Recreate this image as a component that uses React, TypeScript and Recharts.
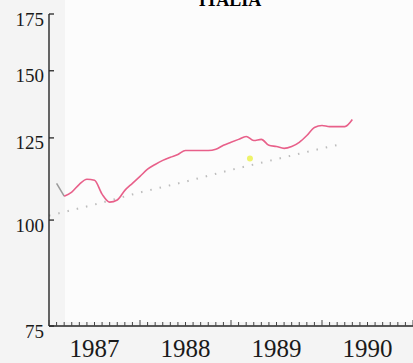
import { LineChart, Line, XAxis, YAxis, ReferenceDot } from 'recharts'

// months counted from Jan 1987 (0 = start of 1987)
const months = [1, 2, 3, 4, 5, 6, 7, 8, 9, 10, 11, 12, 13, 14, 15, 16, 17, 18, 19, 20,
  21, 22, 23, 24, 25, 26, 27, 28, 29, 30, 31, 32, 33, 34, 35, 36, 37, 38, 39, 40]
const italia = [110.5, 106.7, 107.9, 110.2, 111.7, 111.4, 107.3, 105.0, 105.6, 108.4,
  110.5, 112.6, 114.8, 116.3, 117.6, 118.6, 119.5, 120.8, 120.8, 120.8,
  120.8, 121.2, 122.5, 123.5, 124.5, 125.5, 124.1, 124.5, 122.5, 122.1,
  121.5, 122.1, 123.5, 125.8, 128.6, 129.3, 128.9, 128.9, 128.9, 131.4]
// the first segment is drawn in grey
const headMonths = [1, 2]

const trendMonths = [0, 6, 12, 18, 24, 30, 36, 38]
const trendValues = [101.2, 104.3, 107.8, 111.0, 114.6, 118.0, 121.5, 122.6]

const markMonth = 26.5
const markValue = 118.2

const yTicks = [75, 100, 125, 150, 175]
const yearLabels = ['1987', '1988', '1989', '1990']
const xTicks = Array.from({ length: 49 }, (_, i) => i)

type Row = { m: number; value?: number; head?: number; trend?: number }

function buildRows(): Row[] {
  const byMonth = new Map<number, Row>()
  const get = (m: number) => {
    if (!byMonth.has(m)) byMonth.set(m, { m })
    return byMonth.get(m)!
  }
  months.forEach((m, i) => {
    const r = get(m)
    if (m >= headMonths[1]) r.value = italia[i]
    if (headMonths.includes(m)) r.head = italia[i]
  })
  trendMonths.forEach((m, i) => {
    get(m).trend = trendValues[i]
  })
  return [...byMonth.values()].sort((a, b) => a.m - b.m)
}

const FONT = '"Liberation Serif", "DejaVu Serif", serif'
const INK = '#262626'

function YTick(props: any) {
  const { x, y, payload } = props
  return (
    <g>
      <line x1={x} y1={y} x2={x + 5} y2={y} stroke={INK} strokeWidth={1.3} />
      <text x={x - 5} y={y + 5} textAnchor="end" dominantBaseline="central"
        fontFamily={FONT} fontSize={19} fill="#1a1a1a">
        {payload.value}
      </text>
    </g>
  )
}

function XTick(props: any) {
  const { x, y, payload } = props
  const m = payload.value as number
  const len = m % 12 === 0 ? 6 : 4
  return (
    <g>
      <line x1={x} y1={y} x2={x} y2={y - len} stroke="#444" strokeWidth={1} />
      {m % 12 === 6 && (
        <text x={x} y={y + 31} textAnchor="middle" fontFamily={FONT}
          fontSize={25} fill="#1a1a1a">
          {yearLabels[Math.floor(m / 12)]}
        </text>
      )}
    </g>
  )
}

export default function App() {
  const rows = buildRows()
  return (
    <div style={{ position: 'absolute', left: 0, top: 0, width: 413, height: 363,
      overflow: 'hidden', background: '#f4f4f4' }}>
      <div style={{ position: 'absolute', left: 65, top: 0, width: 348, height: 322,
        background: '#fcfcfc' }} />
      <div style={{ position: 'absolute', left: 180, top: -9, width: 100, textAlign: 'center',
        fontFamily: FONT, fontWeight: 'bold', fontSize: 18, lineHeight: '18px' }}>
        ITALIA
      </div>
      <div style={{ position: 'absolute', left: 0, top: 0 }}>
        <LineChart width={413} height={363} data={rows}
          margin={{ top: 14, right: 0, bottom: 0, left: 0 }}>
          <XAxis dataKey="m" type="number" domain={[0, 48]} ticks={xTicks} interval={0}
            height={37} tickSize={0} tickMargin={0} tickLine={false}
            axisLine={{ stroke: INK, strokeWidth: 1.4 }} tick={<XTick />} />
          <YAxis scale="log" domain={[75, 175]} ticks={yTicks} interval={0} allowDataOverflow
            width={49} tickSize={0} tickMargin={0} tickLine={false}
            axisLine={{ stroke: INK, strokeWidth: 1.4 }} tick={<YTick />} />
          <Line dataKey="trend" type="linear" stroke="#bdbdbd" strokeWidth={2}
            strokeDasharray="1.5 8" dot={false} connectNulls isAnimationActive={false} />
          <Line dataKey="head" type="linear" stroke="#9a9a9a" strokeWidth={1.5}
            dot={false} isAnimationActive={false} />
          <Line dataKey="value" type="monotone" stroke="#e8608a" strokeWidth={1.6}
            dot={false} isAnimationActive={false} />
          <ReferenceDot x={markMonth} y={markValue} r={3} fill="#eef36a" stroke="none" />
        </LineChart>
      </div>
    </div>
  )
}
